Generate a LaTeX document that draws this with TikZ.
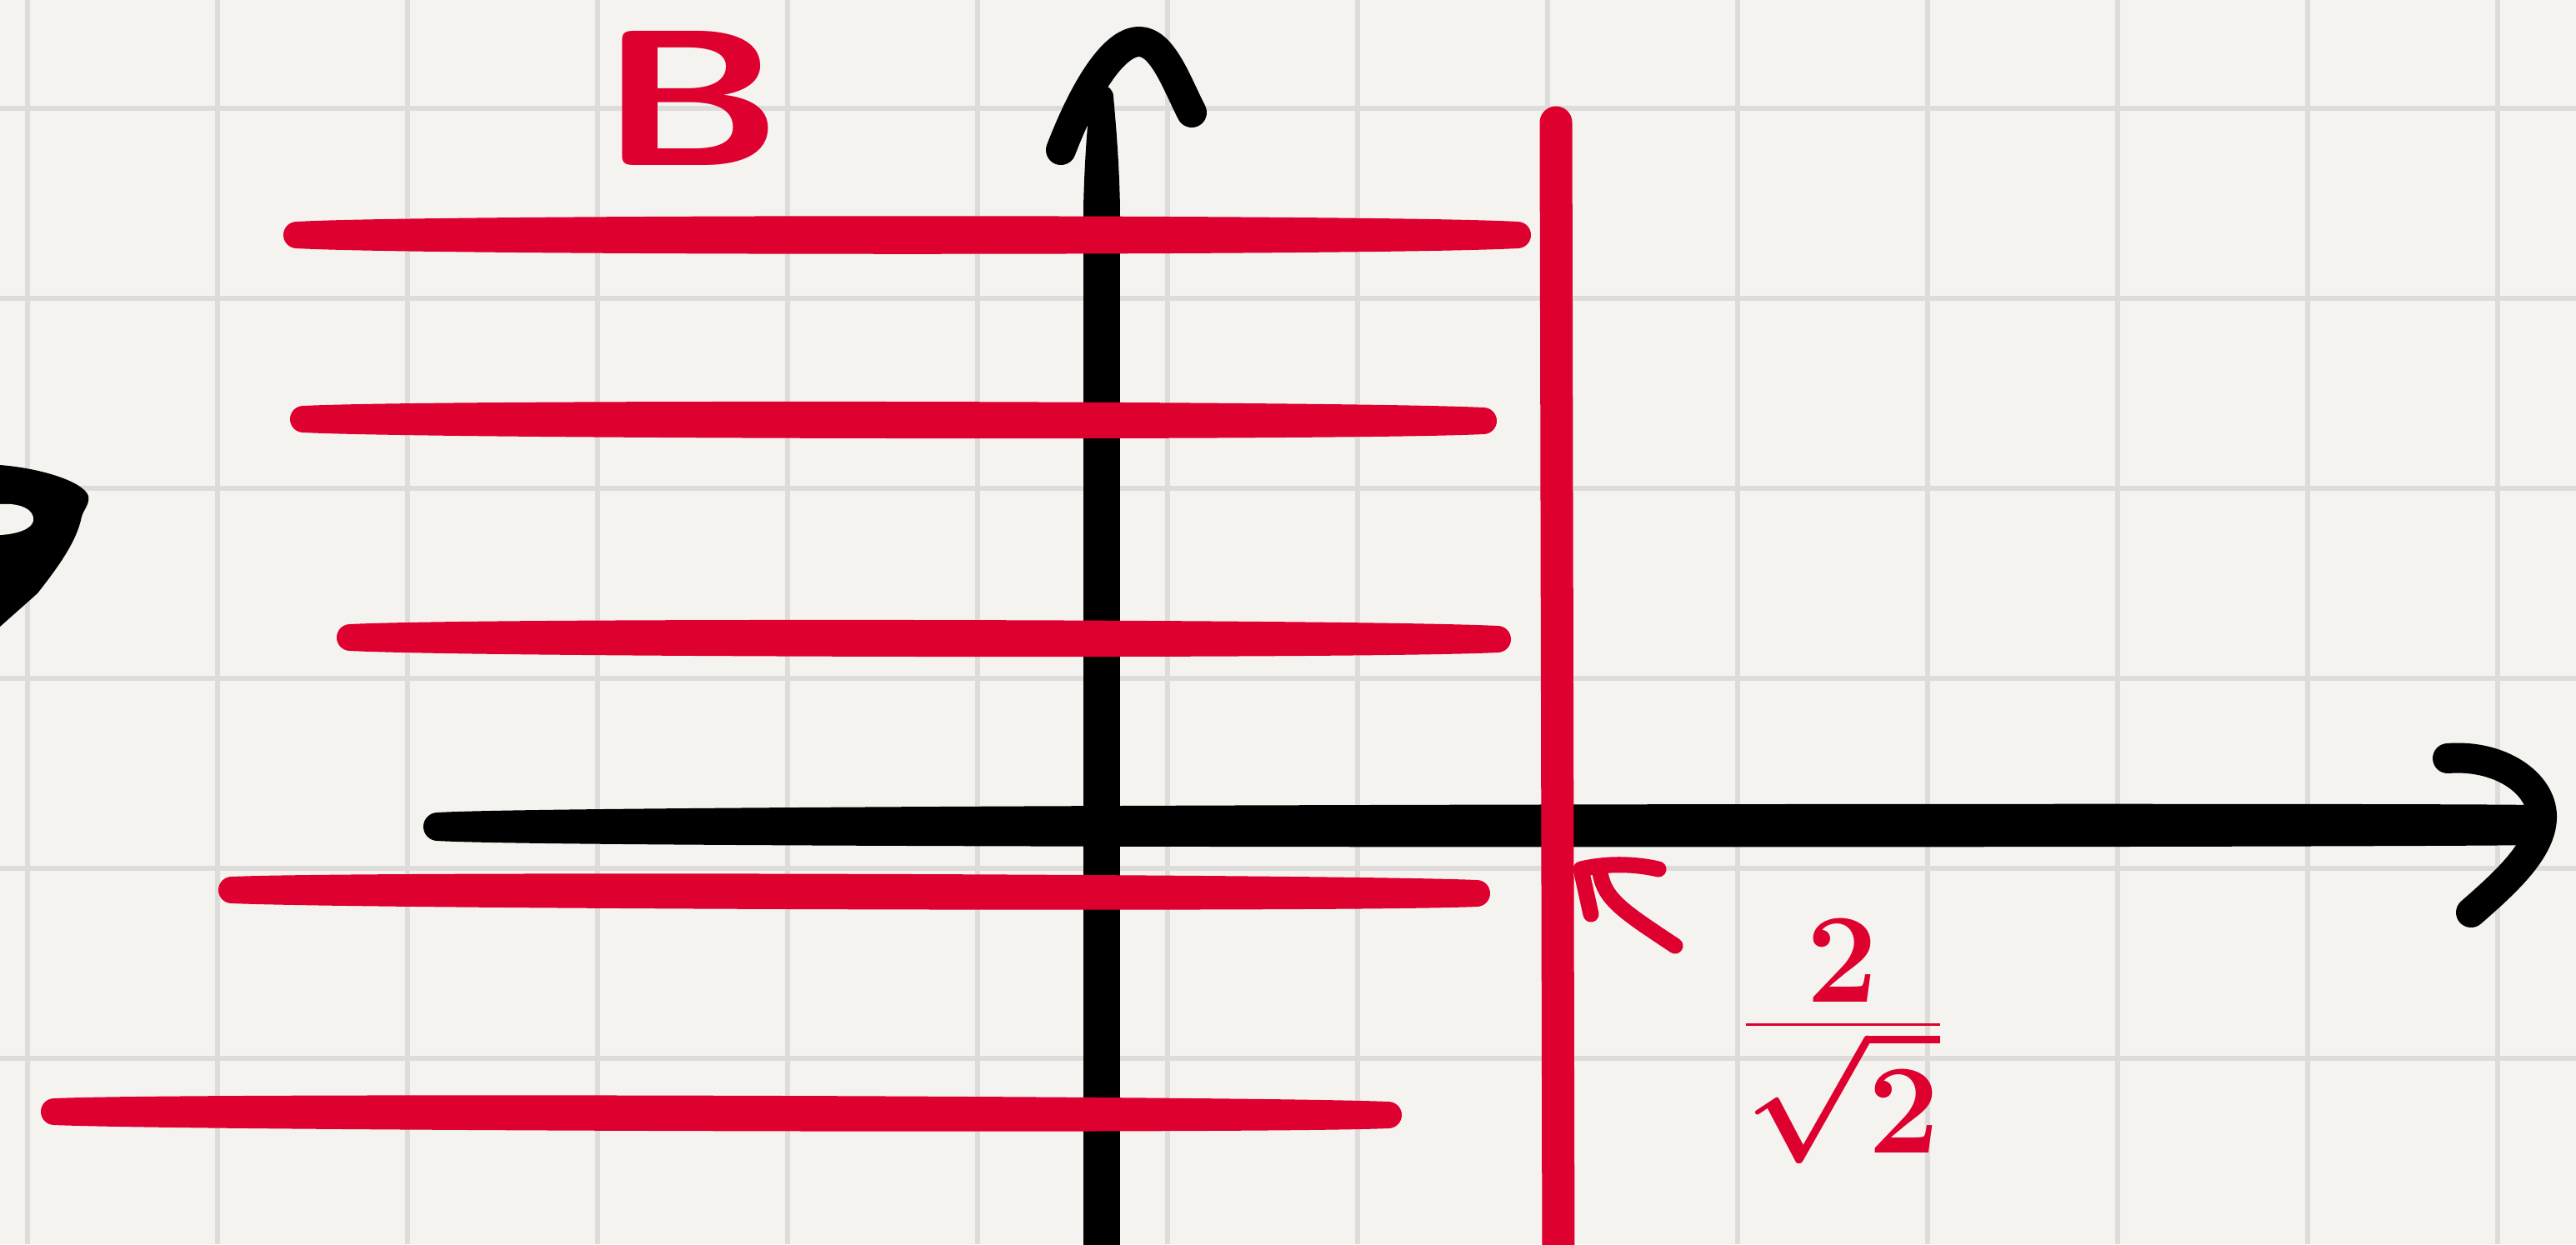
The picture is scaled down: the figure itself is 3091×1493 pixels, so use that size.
\documentclass[tikz,border=0pt]{standalone}
\usepackage{fontspec}
\definecolor{paper}{RGB}{244,243,240}
\definecolor{gridc}{RGB}{221,220,218}
\definecolor{ink}{RGB}{222,0,46}
% hand-drawn strokes with slightly thinner ends: colour, x1, y1, r1, x2, y2, r2, R (body)
\newcommand\hstroke[8]{%
 \fill[#1] (#2,#3) circle (#4);
 \fill[#1] (#5,#6) circle (#7);
 \fill[#1] ({#2},{#3-#4}) .. controls ({#2+160},{#3-#8}) and ({#5-160},{#6-#8}) .. ({#5},{#6-#7})
   -- ({#5},{#6+#7}) .. controls ({#5-160},{#6+#8}) and ({#2+160},{#3+#8}) .. ({#2},{#3+#4}) -- cycle;}
\begin{document}
\begin{tikzpicture}[x=0.01cm, y=-0.01cm,
  gridline/.style={gridc, line width=0.055cm},
  blackhead/.style={black, line width=0.36cm, line cap=round, line join=round},
  redpen/.style={ink, line width=0.19cm, line cap=round, line join=round}]
\useasboundingbox (0,0) rectangle (3091,1493);
\clip (0,0) rectangle (3091,1493);
\fill[paper] (0,0) rectangle (3091,1493);
% grid
\foreach \gx in {33,261,...,2997} \draw[gridline] (\gx,0) -- (\gx,1493);
\foreach \gy in {130,358,...,1270} \draw[gridline] (0,\gy) -- (3091,\gy);

% black axes
\fill[black] (1322,116) circle (14);
\fill[black] (1308,116) .. controls (1304,160) and (1301,200) .. (1300,250) -- (1344,250)
  .. controls (1343,200) and (1340,160) .. (1336,116) -- cycle;
\draw[black, line width=0.44cm] (1322,248) -- (1322,1530);
\draw[blackhead] (1273,180) .. controls (1300,110) and (1335,50) .. (1367,50)
                 .. controls (1395,50) and (1412,100) .. (1430,135);
\hstroke{black}{525}{992}{17}{3040}{990}{24}{27}
\draw[blackhead] (2937,910) .. controls (3000,905) and (3050,940) .. (3050,980)
                 .. controls (3050,1020) and (3005,1060) .. (2965,1095);

% black mark cut by the left edge
\fill[black] (0,558) .. controls (50,562) and (100,578) .. (106,595)
  .. controls (108,605) and (100,612) .. (98,620)
  .. controls (92,650) and (70,680) .. (45,712) -- (0,752) -- cycle;
\fill[paper] (0,605) .. controls (25,603) and (42,612) .. (40,625)
  .. controls (38,635) and (20,641) .. (0,642) -- cycle;

% red horizontal lines
\hstroke{ink}{356}{282}{16}{1821}{282}{16}{25}
\hstroke{ink}{364}{503}{16}{1780}{505}{16}{24}
\hstroke{ink}{420}{765}{16}{1797}{767}{16}{24}
\hstroke{ink}{278}{1068}{16}{1772}{1072}{16}{23}
\hstroke{ink}{65}{1334}{16}{1666}{1338}{16}{23}

% red vertical line
\draw[ink, line width=0.39cm, line cap=round] (1867,147) -- (1870,1530);

% small red arrow
\draw[redpen] (1920,1047) .. controls (1925,1080) and (1950,1095) .. (2010,1135);
\draw[redpen] (1990,1043) .. controls (1955,1035) and (1922,1037) .. (1897,1043) -- (1909,1097);

% labels
\node[text=ink, font=\fontsize{66}{66}\selectfont\sffamily\bfseries, xscale=1.3, inner sep=0pt] (lblB) at (830,118) {B};
\node[text=ink, font=\huge\boldmath, scale=2.1, inner sep=0pt] (lblfrac) at (2211,1250) {$\frac{\displaystyle 2}{\displaystyle\sqrt{2}}$};
\end{tikzpicture}
\end{document}
